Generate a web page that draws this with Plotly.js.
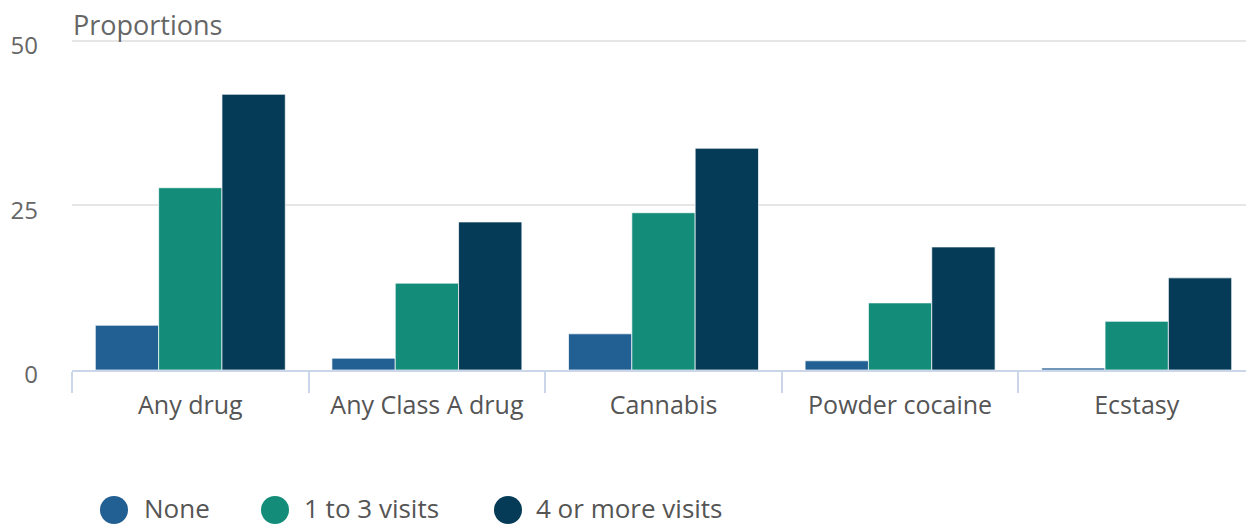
<!DOCTYPE html>
<html>
<head>
<meta charset="utf-8">
<script src="https://cdn.plot.ly/plotly-3.0.1.min.js"></script>
<style>
html,body{margin:0;padding:0;overflow:hidden;background:#fff;}
#chart{width:1256px;height:526px;}
</style>
</head>
<body>
<div id="chart"></div>
<script>
const categories = ["Any drug", "Any Class A drug", "Cannabis", "Powder cocaine", "Ecstasy"];
const seriesNames = ["None", "1 to 3 visits", "4 or more visits"];
const noneValues = [6.8, 1.8, 5.5, 1.4, 0.3];
const oneToThreeValues = [27.7, 13.2, 23.9, 10.2, 7.4];
const fourPlusValues = [41.9, 22.5, 33.7, 18.7, 14.0];
const seriesColors = ["#225f93", "#138c79", "#053b57"];
const yTicks = [0, 25, 50];

// legend layout (pixel positions of symbol centres and text starts)
const legendSymbolX = [114, 275, 508];
const legendTextX = [142, 302, 534];

const allValues = [noneValues, oneToThreeValues, fourPlusValues];
const font = "'Open Sans', sans-serif";

const W = 1256, H = 526;
const M = {l: 72, r: 1, t: 39, b: 156};
const plotW = W - M.l - M.r;
const plotH = H - M.t - M.b;
const pxX = px => (px - M.l) / plotW;
const pxY = py => (H - M.b - py) / plotH;

const traces = allValues.map((vals, i) => ({
  type: "bar",
  x: categories,
  y: vals,
  name: seriesNames[i],
  marker: {color: seriesColors[i], line: {color: "rgba(255,255,255,0.7)", width: 1}},
  showlegend: false
}));

const shapes = seriesNames.map((n, i) => ({
  type: "circle",
  xref: "paper", yref: "paper",
  xsizemode: "pixel", ysizemode: "pixel",
  xanchor: pxX(legendSymbolX[i]), yanchor: pxY(510),
  x0: -14, x1: 14, y0: -14, y1: 14,
  fillcolor: seriesColors[i],
  line: {width: 0}
}));

const annotations = [{
  text: "Proportions",
  xref: "paper", yref: "y",
  x: 0, y: 50,
  xanchor: "left", yanchor: "bottom",
  xshift: -1, yshift: -4,
  showarrow: false,
  font: {family: font, size: 27, color: "#666"}
}].concat(seriesNames.map((n, i) => ({
  text: n,
  xref: "paper", yref: "paper",
  x: pxX(legendTextX[i]), y: pxY(508),
  xanchor: "left", yanchor: "middle",
  showarrow: false,
  font: {family: font, size: 26, color: "#555"}
})));

const layout = {
  width: W,
  height: H,
  margin: M,
  paper_bgcolor: "#fff",
  plot_bgcolor: "#fff",
  font: {family: font, color: "#666"},
  barmode: "group",
  bargap: 0.197,
  bargroupgap: 0,
  xaxis: {
    type: "category",
    tickson: "boundaries",
    ticks: "outside",
    ticklen: 21,
    tickwidth: 2,
    tickcolor: "#ccd6eb",
    showline: true,
    linecolor: "#ccd6eb",
    linewidth: 2,
    showgrid: false,
    tickfont: {family: font, size: 25, color: "#555"},
    ticklabelstandoff: 12,
    fixedrange: true
  },
  yaxis: {
    range: [0, 50.3],
    tickvals: yTicks,
    ticktext: yTicks.map(String),
    showgrid: true,
    gridcolor: "#e6e6e6",
    gridwidth: 2,
    zeroline: false,
    showline: false,
    tickfont: {family: font, size: 24, color: "#666"},
    ticklabelstandoff: 33,
    ticklabelshift: 5,
    fixedrange: true
  },
  shapes: shapes,
  annotations: annotations,
  showlegend: false
};

Plotly.newPlot("chart", traces, layout, {displayModeBar: false, staticPlot: true});
</script>
</body>
</html>
